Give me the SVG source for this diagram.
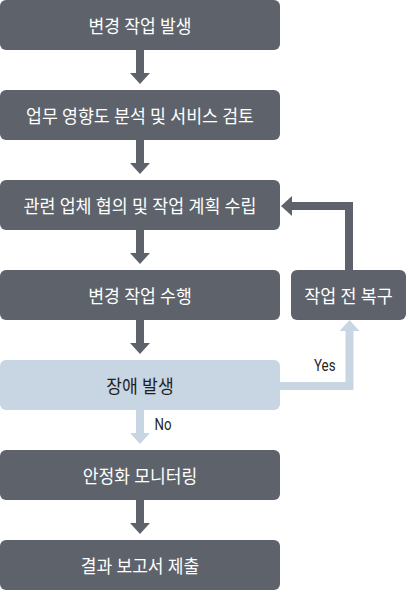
<svg xmlns="http://www.w3.org/2000/svg" width="407" height="591" viewBox="0 0 407 591">
<style>
.box{fill:#5e636b}
.hl{fill:#c8d5e2}
.t{font-family:Roboto,"Noto Sans CJK KR",sans-serif;font-size:18px;fill:#ffffff;text-anchor:middle;dominant-baseline:central}
.td{fill:#1f1f1f}
.lbl{font-family:Roboto,"Noto Sans CJK KR",sans-serif;font-size:16px;fill:#1f1f1f}
.c{fill:none;stroke:#5e636b;stroke-width:8}
.cl{fill:none;stroke:#c8d5e2;stroke-width:8}
</style>
<defs>
<marker id="ah" markerUnits="userSpaceOnUse" markerWidth="11" markerHeight="20" viewBox="0 -10 11 20" refX="0" refY="0" orient="auto"><path d="M0,-10 L11,0 L0,10 z" fill="#5e636b"/></marker>
<marker id="ahl" markerUnits="userSpaceOnUse" markerWidth="11" markerHeight="20" viewBox="0 -10 11 20" refX="0" refY="0" orient="auto"><path d="M0,-10 L11,0 L0,10 z" fill="#c8d5e2"/></marker>
</defs>
<g id="connectors">
<path class="c" d="M140,50 V73" marker-end="url(#ah)"/>
<path class="c" d="M140,140 V163" marker-end="url(#ah)"/>
<path class="c" d="M140,230 V253" marker-end="url(#ah)"/>
<path class="c" d="M140,320 V343" marker-end="url(#ah)"/>
<path class="cl" d="M140,410 V433" marker-end="url(#ahl)"/>
<path class="c" d="M140,500 V523" marker-end="url(#ah)"/>
<path class="c" d="M349,270 V206 H292" marker-end="url(#ah)"/>
<path class="cl" d="M280,386 H349.5 V331" marker-end="url(#ahl)"/>
<text class="lbl" x="314" y="371" textLength="21.5" lengthAdjust="spacingAndGlyphs">Yes</text>
<text class="lbl" x="154.5" y="430" textLength="17" lengthAdjust="spacingAndGlyphs">No</text>
</g>
<g id="n1"><rect class="box" x="0" y="0" width="280" height="50" rx="6"/><text class="t" x="140" y="26.5" textLength="103" lengthAdjust="spacingAndGlyphs">변경 작업 발생</text></g>
<g id="n2"><rect class="box" x="0" y="90" width="280" height="50" rx="6"/><text class="t" x="140" y="116.5" textLength="228" lengthAdjust="spacingAndGlyphs">업무 영향도 분석 및 서비스 검토</text></g>
<g id="n3"><rect class="box" x="0" y="180" width="280" height="50" rx="6"/><text class="t" x="140" y="206.5" textLength="233" lengthAdjust="spacingAndGlyphs">관련 업체 협의 및 작업 계획 수립</text></g>
<g id="n4"><rect class="box" x="0" y="270" width="280" height="50" rx="6"/><text class="t" x="140" y="296.5" textLength="103.5" lengthAdjust="spacingAndGlyphs">변경 작업 수행</text></g>
<g id="n5"><rect class="hl" x="0" y="360" width="280" height="50" rx="6"/><text class="t td" x="140" y="386.5" textLength="67.5" lengthAdjust="spacingAndGlyphs">장애 발생</text></g>
<g id="n6"><rect class="box" x="0" y="450" width="280" height="50" rx="6"/><text class="t" x="140" y="476.5" textLength="114.5" lengthAdjust="spacingAndGlyphs">안정화 모니터링</text></g>
<g id="n7"><rect class="box" x="0" y="540" width="280" height="50" rx="6"/><text class="t" x="140" y="566.5" textLength="118.5" lengthAdjust="spacingAndGlyphs">결과 보고서 제출</text></g>
<g id="n8"><rect class="box" x="291" y="270" width="115" height="50" rx="6"/><text class="t" x="348.5" y="296.5" textLength="88.5" lengthAdjust="spacingAndGlyphs">작업 전 복구</text></g>
</svg>
